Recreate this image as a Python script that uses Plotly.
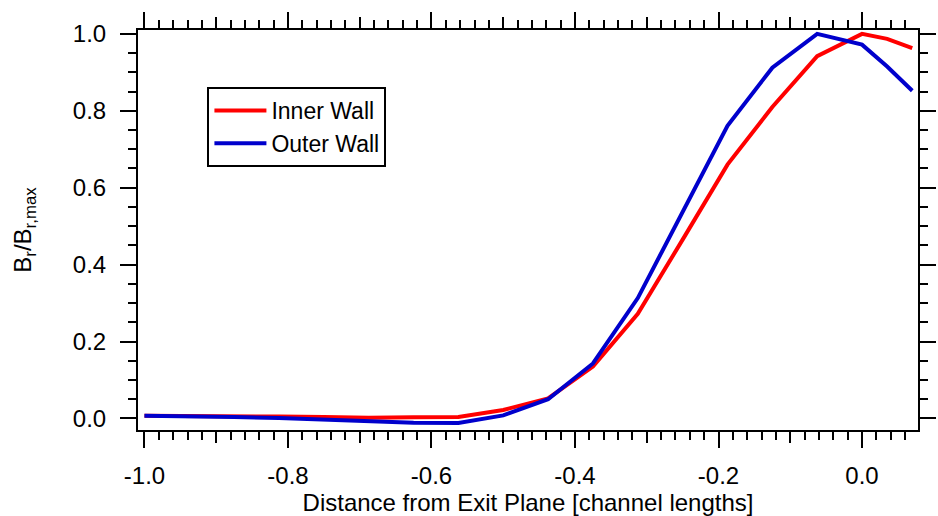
import plotly.graph_objects as go

# Axial positions (channel lengths from exit plane)
distance = [-1.0, -0.9375, -0.875, -0.8125, -0.75, -0.6875, -0.625, -0.5625,
            -0.5, -0.4375, -0.375, -0.3125, -0.25, -0.1875, -0.125, -0.0625,
            0.0, 0.035, 0.07]

# Normalised radial field along each wall
inner_wall = [0.007, 0.007, 0.006, 0.005, 0.004, 0.002, 0.003, 0.004,
              0.022, 0.052, 0.135, 0.272, 0.465, 0.660, 0.810, 0.942,
              1.000, 0.987, 0.963]
outer_wall = [0.007, 0.006, 0.004, 0.001, -0.003, -0.007, -0.011, -0.012,
              0.008, 0.050, 0.143, 0.313, 0.537, 0.761, 0.912, 1.000,
              0.972, 0.915, 0.852]

x_ticks = [-1.0, -0.8, -0.6, -0.4, -0.2, 0.0]
x_ticktext = ["-1.0", "-0.8", "-0.6", "-0.4", "-0.2", "0.0"]
x_midticks = [-1.0, -0.9, -0.8, -0.7, -0.6, -0.5, -0.4, -0.3, -0.2, -0.1, 0.0]
y_ticks = [0.0, 0.2, 0.4, 0.6, 0.8, 1.0]
y_ticktext = ["0.0", "0.2", "0.4", "0.6", "0.8", "1.0"]

X_RANGE = [-1.009, 0.078]
Y_RANGE = [-0.030, 1.010]
FONT = "Liberation Sans, Arial, Helvetica, sans-serif"
FS = 24

fig = go.Figure()
fig.add_trace(go.Scatter(x=distance, y=inner_wall, mode="lines", name="Inner Wall",
                         line=dict(color="#FF0000", width=4)))
fig.add_trace(go.Scatter(x=distance, y=outer_wall, mode="lines", name="Outer Wall",
                         line=dict(color="#0000CC", width=4)))
# helper trace so the intermediate-tick axis is rendered
fig.add_trace(go.Scatter(x=distance, y=inner_wall, xaxis="x2", mode="lines",
                         line=dict(width=0), opacity=0, showlegend=False,
                         hoverinfo="skip"))

fig.update_layout(
    width=938, height=516,
    margin=dict(l=138, r=20, t=30, b=86, autoexpand=False),
    paper_bgcolor="white", plot_bgcolor="white",
    font=dict(family=FONT, size=FS, color="black"),
    showlegend=True,
    legend=dict(x=0.089, y=0.8575, xanchor="left", yanchor="top",
                bgcolor="white", bordercolor="black", borderwidth=2,
                font=dict(size=23), tracegroupgap=0, itemwidth=52),
    xaxis=dict(
        range=X_RANGE, tickmode="array", tickvals=x_ticks, ticktext=x_ticktext,
        ticks="outside", ticklen=16, tickwidth=2, tickcolor="black",
        showline=True, linewidth=2, linecolor="black", mirror="ticks",
        showgrid=False, zeroline=False, ticklabelstandoff=7,
        automargin=False, tickfont=dict(size=FS),
        minor=dict(tick0=0, dtick=0.02, ticks="outside", ticklen=8,
                   tickwidth=2, tickcolor="black", showgrid=False),
        title=dict(text="Distance from Exit Plane [channel lengths]",
                   font=dict(size=FS), standoff=12),
    ),
    xaxis2=dict(
        range=X_RANGE, overlaying="x", anchor="y", side="bottom",
        tickmode="array", tickvals=x_midticks, showticklabels=False,
        ticks="outside", ticklen=12, tickwidth=2, tickcolor="black",
        showline=False, mirror="ticks", showgrid=False, zeroline=False,
        automargin=False,
    ),
    yaxis=dict(
        range=Y_RANGE, tickmode="array", tickvals=y_ticks, ticktext=y_ticktext,
        ticks="outside", ticklen=16, tickwidth=2, tickcolor="black",
        showline=True, linewidth=2, linecolor="black", mirror="ticks",
        showgrid=False, zeroline=False, ticklabelstandoff=9,
        automargin=False, tickfont=dict(size=FS),
        minor=dict(tick0=0, dtick=0.05, ticks="outside", ticklen=8,
                   tickwidth=2, tickcolor="black", showgrid=False),
        title=dict(text="B<sub>r</sub>/B<sub>r,max</sub>",
                   font=dict(size=FS), standoff=34),
    ),
)

fig.write_html("out.html")
